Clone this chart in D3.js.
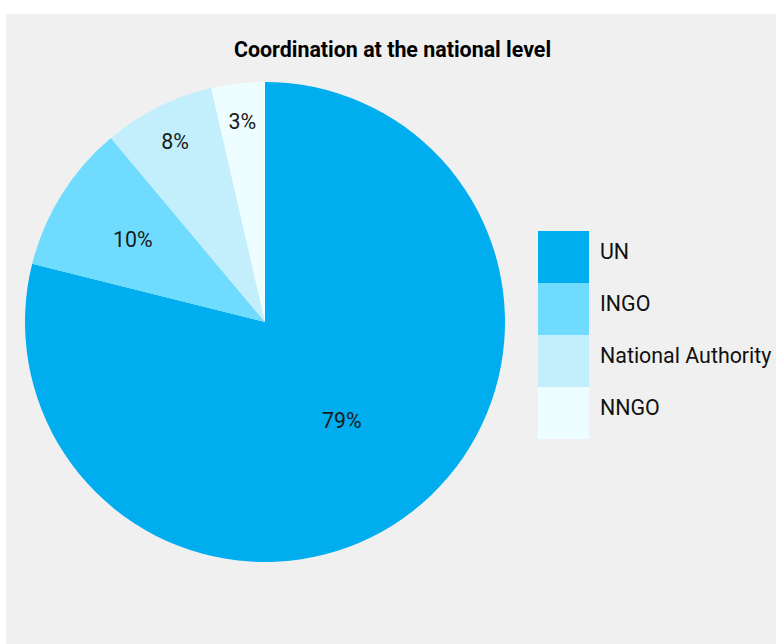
<!DOCTYPE html>
<html>
<head>
<meta charset="utf-8">
<script src="https://cdn.jsdelivr.net/npm/d3@7"></script>
<style>
  html, body { margin: 0; padding: 0; background: #fff; }
  svg { display: block; font-family: Roboto, "Noto Sans", sans-serif; }
</style>
</head>
<body>
<div id="chart"></div>
<script>
// ------DATA------
const categories = ["UN", "INGO", "National Authority", "NNGO"]
const shares = [78.9, 10.0, 7.5, 3.6]
// percentages as printed on the slices
const shownPct = ["79%", "10%", "8%", "3%"]
const colours = ["#00aeef", "#6fdcff", "#c2effb", "#eefdff"]
const title = "Coordination at the national level"

// ------LAYOUT------
const width = 776, height = 644
const panel = { x: 6, y: 14 }
const radius = 240
const centre = { x: 265, y: 322 }
const fontSize = 21.4

const svg = d3.select("#chart").append("svg")
  .attr("width", width).attr("height", height)

// grey background panel
svg.append("rect")
  .attr("x", panel.x).attr("y", panel.y)
  .attr("width", width - panel.x).attr("height", height - panel.y)
  .attr("fill", "#f0f0f0")

svg.append("text")
  .attr("x", 392.5).attr("y", 57)
  .attr("text-anchor", "middle")
  .attr("font-size", fontSize).attr("font-weight", "bold")
  .attr("fill", "#000")
  .text(title)

const colour = d3.scaleOrdinal().domain(categories).range(colours)

// slices go clockwise from 12 o'clock, in data order
const pie = d3.pie().sort(null).value(d => d.v)
const arcs = pie(categories.map((c, i) => ({ c: c, v: shares[i], t: shownPct[i] })))
const total = d3.sum(shares)

const arc = d3.arc().innerRadius(0).outerRadius(radius)
const g = svg.append("g").attr("transform", `translate(${centre.x}, ${centre.y})`)

g.selectAll("path").data(arcs).enter()
  .append("path")
    .attr("d", arc)
    .attr("fill", d => colour(d.data.c))

// big slices get their label near the middle, thin ones get pushed out to the rim
function labelPos(d) {
  const frac = d.data.v / total
  let r
  if (frac > 0.5) r = radius * 0.52
  else if (frac >= 0.1) r = radius * 0.65
  else r = radius * 0.84
  const a = (d.startAngle + d.endAngle) / 2
  return [Math.sin(a) * r, -Math.cos(a) * r]
}

g.selectAll(".pct").data(arcs).enter()
  .append("text")
    .attr("class", "pct")
    .attr("transform", d => `translate(${labelPos(d)})`)
    .attr("text-anchor", "middle")
    .attr("dy", "0.35em")
    .attr("font-size", fontSize)
    .attr("fill", "#1a1a1a")
    .text(d => d.data.t)

// ------LEGEND------
const legend = svg.append("g").attr("transform", "translate(538, 231)")
const rowH = 52
const y = d3.scaleBand().domain(categories).range([0, rowH * categories.length])

legend.selectAll("rect").data(categories).enter()
  .append("rect")
    .attr("x", 0).attr("y", d => y(d))
    .attr("width", 51).attr("height", y.bandwidth())
    .attr("fill", d => colour(d))

legend.selectAll("text").data(categories).enter()
  .append("text")
    .attr("x", 62).attr("y", d => y(d) + y.bandwidth() / 2 - 5)
    .attr("dy", "0.35em")
    .attr("font-size", fontSize)
    .attr("fill", "#111")
    .text(d => d)
</script>
</body>
</html>
